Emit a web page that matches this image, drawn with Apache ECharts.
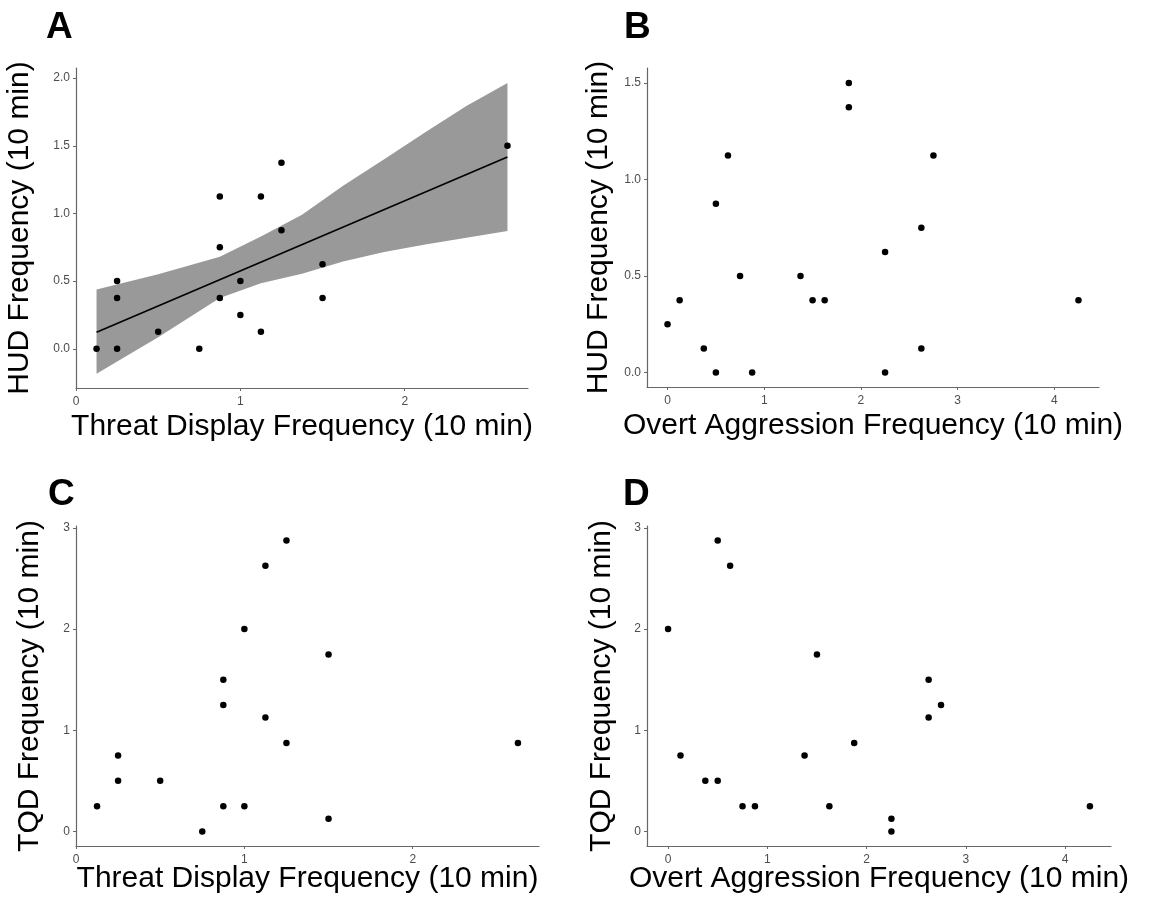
<!DOCTYPE html>
<html>
<head>
<meta charset="utf-8">
<title>HUD / TQD frequency</title>
<script src="https://cdn.jsdelivr.net/npm/echarts@6/dist/echarts.min.js"></script>
<style>
html, body { margin: 0; padding: 0; background: #fff; }
#chart { width: 1159px; height: 902px; }
</style>
</head>
<body>
<div id="chart"></div>
<script>
// panel A: threat display vs HUD, with linear fit + 95% band
var threatA = [0.125, 0.25, 0.25, 0.25, 0.5, 0.75, 0.875, 0.875, 0.875, 1.0, 1.0, 1.125, 1.125, 1.25, 1.25, 1.5, 1.5, 2.625];
var hudA    = [0, 0, 0.375, 0.5, 0.125, 0, 0.375, 0.75, 1.125, 0.25, 0.5, 0.125, 1.125, 0.875, 1.375, 0.375, 0.625, 1.5];
var fitX = [0.125, 2.625];
var fitY = [0.122, 1.418];
var bandX    = [0.125, 0.5, 0.875, 1.125, 1.375, 1.625, 1.875, 2.125, 2.375, 2.625];
var bandLow  = [-0.184, 0.085, 0.375, 0.485, 0.555, 0.645, 0.715, 0.77, 0.82, 0.87];
var bandHigh = [0.438, 0.55, 0.68, 0.83, 0.99, 1.205, 1.40, 1.60, 1.795, 1.965];

// panel B: overt aggression vs HUD
var overtB = [0, 0.125, 0.375, 0.5, 0.5, 0.625, 0.75, 0.875, 1.375, 1.5, 1.625, 1.875, 1.875, 2.25, 2.25, 2.625, 2.625, 2.75, 4.25];
var hudB   = [0.25, 0.375, 0.125, 0, 0.875, 1.125, 0.5, 0, 0.5, 0.375, 0.375, 1.5, 1.375, 0.625, 0, 0.75, 0.125, 1.125, 0.375];

// panel C: threat display vs TQD
var threatC = [0.125, 0.25, 0.25, 0.5, 0.75, 0.875, 0.875, 0.875, 1.0, 1.0, 1.125, 1.125, 1.25, 1.25, 1.5, 1.5, 2.625];
var tqdC    = [0.25, 0.5, 0.75, 0.5, 0, 0.25, 1.25, 1.5, 0.25, 2.0, 1.125, 2.625, 0.875, 2.875, 0.125, 1.75, 0.875];

// panel D: overt aggression vs TQD
var overtD = [0, 0.125, 0.375, 0.5, 0.5, 0.625, 0.75, 0.875, 1.375, 1.5, 1.625, 1.875, 2.25, 2.25, 2.625, 2.625, 2.75, 4.25];
var tqdD   = [2.0, 0.75, 0.5, 0.5, 2.875, 2.625, 0.25, 0.25, 0.75, 1.75, 0.25, 0.875, 0.125, 0, 1.5, 1.125, 1.25, 0.25];

// tick labels
var ticksThreat = [0, 1, 2];
var ticksOvert  = [0, 1, 2, 3, 4];
var ticksHudA   = [0, 0.5, 1, 1.5, 2];
var ticksHudB   = [0, 0.5, 1, 1.5];
var ticksTqd    = [0, 1, 2, 3];

var FONT = '"Liberation Sans", Arial, Helvetica, sans-serif';
var AXIS_COLOR = '#666666';

function pairs(xs, ys) {
    var out = [];
    for (var i = 0; i < xs.length; i = i + 1) {
        out.push([xs[i], ys[i]]);
    }
    return out;
}

function makeAxis(grid, min, max, ticks, name, gap, isY, decimals) {
    return {
        type: 'value',
        gridIndex: grid,
        min: min,
        max: max,
        name: name,
        nameLocation: 'middle',
        nameGap: gap,
        nameRotate: isY ? 90 : 0,
        nameMoveOverlap: false,
        nameTextStyle: {fontSize: 30, color: '#000', fontFamily: FONT},
        splitLine: {show: false},
        axisLine: {show: true, onZero: false, lineStyle: {color: AXIS_COLOR, width: 1.2}},
        axisTick: {show: true, length: 3, customValues: ticks, lineStyle: {color: AXIS_COLOR}},
        axisLabel: {
            customValues: ticks,
            fontSize: 12,
            color: '#4d4d4d',
            fontFamily: FONT,
            margin: isY ? 6 : 8,
            formatter: function (v) {
                return decimals ? v.toFixed(decimals) : String(v);
            }
        }
    };
}

function dots(grid, xs, ys) {
    return {
        type: 'scatter',
        xAxisIndex: grid,
        yAxisIndex: grid,
        symbol: 'circle',
        symbolSize: 6.5,
        itemStyle: {color: '#000', opacity: 1},
        z: 5,
        data: pairs(xs, ys)
    };
}

function letter(text, left, top) {
    return {
        text: text,
        left: left,
        top: top,
        padding: 0,
        textStyle: {fontSize: 37, fontWeight: 'bold', color: '#000', fontFamily: FONT}
    };
}

var chart = echarts.init(document.getElementById('chart'));
chart.setOption({
    backgroundColor: '#fff',
    animation: false,
    title: [
        letter('A', 46, 9),
        letter('B', 624, 9),
        letter('C', 48, 476),
        letter('D', 623, 476)
    ],
    grid: [
        {left: 76, top: 68, width: 452, height: 320},
        {left: 647, top: 68, width: 452, height: 319},
        {left: 76, top: 526, width: 463, height: 320},
        {left: 647, top: 526, width: 464, height: 320}
    ],
    xAxis: [
        makeAxis(0, 0, 2.75, ticksThreat, 'Threat Display Frequency (10 min)', 24, false, 0),
        makeAxis(1, -0.2125, 4.4625, ticksOvert, 'Overt Aggression Frequency (10 min)', 24, false, 0),
        makeAxis(2, 0, 2.75, ticksThreat, 'Threat Display Frequency (10 min)', 18, false, 0),
        makeAxis(3, -0.2125, 4.4625, ticksOvert, 'Overt Aggression Frequency (10 min)', 18, false, 0)
    ],
    yAxis: [
        makeAxis(0, -0.29, 2.075, ticksHudA, 'HUD Frequency (10 min)', 41, true, 1),
        makeAxis(1, -0.075, 1.578, ticksHudB, 'HUD Frequency (10 min)', 33, true, 1),
        makeAxis(2, -0.144, 3.019, ticksTqd, 'TQD Frequency (10 min)', 31, true, 0),
        makeAxis(3, -0.144, 3.019, ticksTqd, 'TQD Frequency (10 min)', 30, true, 0)
    ],
    series: [
        {
            type: 'custom',
            xAxisIndex: 0,
            yAxisIndex: 0,
            silent: true,
            z: 1,
            data: [[bandX[0], bandLow[0]]],
            renderItem: function (params, api) {
                var pts = [];
                for (var i = 0; i < bandX.length; i = i + 1) {
                    pts.push(api.coord([bandX[i], bandHigh[i]]));
                }
                for (var j = bandX.length - 1; j >= 0; j = j - 1) {
                    pts.push(api.coord([bandX[j], bandLow[j]]));
                }
                return {type: 'polygon', shape: {points: pts}, style: {fill: '#999999'}};
            }
        },
        {
            type: 'line',
            xAxisIndex: 0,
            yAxisIndex: 0,
            showSymbol: false,
            z: 3,
            lineStyle: {color: '#000', width: 1.6},
            data: pairs(fitX, fitY)
        },
        dots(0, threatA, hudA),
        dots(1, overtB, hudB),
        dots(2, threatC, tqdC),
        dots(3, overtD, tqdD)
    ]
});
</script>
</body>
</html>
